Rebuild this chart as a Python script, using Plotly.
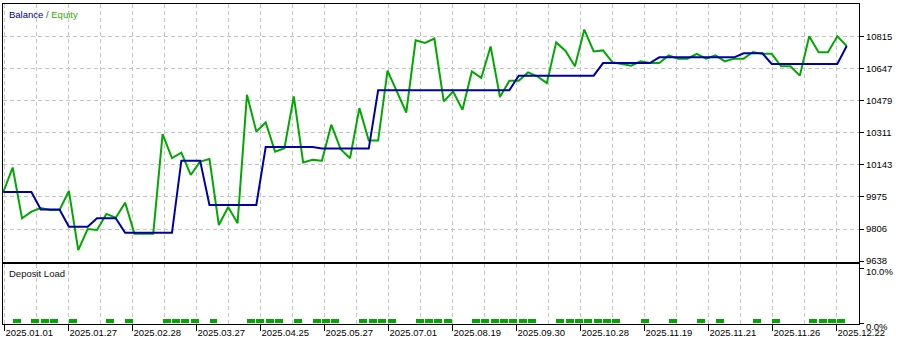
import plotly.graph_objects as go

# ---------------- data ----------------
equity = [10000, 10128, 9862, 9897, 9916, 9906, 9906, 10005, 9696, 9806,
          9801, 9885, 9865, 9944, 9781, 9781, 9781, 10303, 10177, 10206,
          10089, 10159, 10173, 9827, 9921, 9836, 10509, 10316, 10364, 10211,
          10229, 10500, 10154, 10168, 10164, 10352, 10224, 10177, 10439, 10269,
          10269, 10635, 10526, 10416, 10794, 10780, 10803, 10474, 10526, 10430,
          10631, 10597, 10762, 10497, 10582, 10582, 10626, 10605, 10570, 10783,
          10738, 10658, 10850, 10736, 10741, 10679, 10670, 10661, 10684, 10675,
          10675, 10715, 10698, 10698, 10723, 10698, 10715, 10684, 10698, 10698,
          10733, 10723, 10723, 10658, 10658, 10609, 10815, 10731, 10731, 10815,
          10764]

balance = ([10000] * 4 + [9908] * 3 + [9818] * 3 + [9862] * 3 + [9786] * 6 +
           [10164] * 3 + [9932] * 6 + [10235] * 6 + [10227] * 6 + [10532] * 15 +
           [10609] * 9 + [10675] * 6 + [10705] * 9 + [10726] * 3 + [10670] * 8 +
           [10764])

load_trades = [1, 3, 4, 5, 7, 11, 13, 17, 18, 19, 20, 22, 26, 27, 28, 29, 31,
               33, 34, 35, 38, 39, 40, 41, 44, 45, 46, 47, 50, 51, 52, 53, 54,
               55, 56, 59, 60, 61, 62, 63, 64, 65, 68, 71, 74, 76, 80, 82, 86,
               87, 88, 89]
load_values = [0.75, 0.75, 0.75, 0.75, 0.75, 0.75, 0.75, 0.75, 0.75, 0.75,
               0.75, 0.75, 0.75, 0.75, 0.75, 0.75, 0.75, 0.75, 0.75, 0.75,
               0.75, 0.75, 0.75, 0.75, 0.75, 0.75, 0.75, 0.75, 0.75, 0.75,
               0.75, 0.75, 0.75, 0.75, 0.75, 0.75, 0.75, 0.75, 0.75, 0.75,
               0.75, 0.75, 0.75, 0.75, 0.75, 0.75, 0.75, 0.75, 0.75, 0.75,
               0.75, 0.75]

date_labels = ["2025.01.01", "2025.01.27", "2025.02.28", "2025.03.27",
               "2025.04.25", "2025.05.27", "2025.07.01", "2025.08.19",
               "2025.09.30", "2025.10.28", "2025.11.19", "2025.11.21",
               "2025.11.26", "2025.12.22"]

y_ticks = [9638, 9806, 9975, 10143, 10311, 10479, 10647, 10815]
y_tick_text = ["9638", "9806", "9975", "10143", "10311", "10479", "10647",
               "10815"]
load_ticks = [0, 10]
load_tick_text = ["0.0%", "10.0%"]

# ---------------- layout geometry ----------------
W, H = 899, 340
ML, MR, MT, MB = 3, 40, 4, 16
plot_w = W - ML - MR
plot_h = H - MT - MB
px_per_trade = 843.4 / (len(equity) - 1)
x_min = -(3.3 - ML) / px_per_trade
x_max = x_min + plot_w / px_per_trade

grid_px = 32.0
grid_start = (4.5 - 3.3) / px_per_trade
grid_step = grid_px / px_per_trade
n_grid = 27
grid_vals = [grid_start + k * grid_step for k in range(n_grid)]
label_vals = grid_vals[0::2][:len(date_labels)]
minor_vals = grid_vals[1::2]

main_bottom_px = 261.5
lower_top_px = 264.0
main_domain = [(MT + plot_h - main_bottom_px) / plot_h, 1.0]
lower_domain = [0.0, (MT + plot_h - lower_top_px) / plot_h]

FONT = "Liberation Sans, Arial, sans-serif"
GRID = "#c4c4c4"
DASH = "4px,3px"
GREEN = "#00a800"
BLUE = "#0000a8"

fig = go.Figure()
fig.add_trace(go.Scatter(x=list(range(len(equity))), y=equity, mode="lines",
                         line=dict(color=GREEN, width=2), xaxis="x", yaxis="y",
                         showlegend=False, hoverinfo="skip"))
fig.add_trace(go.Scatter(x=list(range(len(balance))), y=balance, mode="lines",
                         line=dict(color=BLUE, width=2), xaxis="x", yaxis="y",
                         showlegend=False, hoverinfo="skip"))
fig.add_trace(go.Bar(x=[t + 0.43 for t in load_trades], y=load_values,
                     width=0.85, marker=dict(color=GREEN, line=dict(width=0)),
                     xaxis="x2", yaxis="y2", showlegend=False, hoverinfo="skip"))

common_x = dict(range=[x_min, x_max], showline=True, mirror=True,
                linecolor="black", linewidth=1, zeroline=False,
                showgrid=True, gridcolor=GRID, griddash=DASH, gridwidth=1,
                tickmode="array", tickvals=label_vals,
                minor=dict(tickmode="array", tickvals=minor_vals, showgrid=True,
                           gridcolor=GRID, griddash=DASH, gridwidth=1, ticks=""))

fig.update_layout(
    width=W, height=H,
    margin=dict(l=ML, r=MR, t=MT, b=MB, pad=0),
    paper_bgcolor="white", plot_bgcolor="white",
    font=dict(family=FONT, size=9, color="black"),
    bargap=0,
    xaxis=dict(domain=[0, 1], anchor="y", showticklabels=False, ticks="",
               **common_x),
    xaxis2=dict(domain=[0, 1], anchor="y2", ticktext=date_labels,
                showticklabels=True, ticks="outside", ticklen=6,
                tickcolor="black", ticklabelposition="outside right",
                tickfont=dict(family=FONT, size=9.5, color="black"),
                **common_x),
    yaxis=dict(domain=main_domain, anchor="x", side="right",
               range=[9636, 10984], tickmode="array", tickvals=y_ticks,
               ticktext=y_tick_text,
               ticks="outside", ticklen=4, tickcolor="black",
               showline=True, mirror=True, linecolor="black", linewidth=1,
               showgrid=True, gridcolor=GRID, griddash=DASH, zeroline=False,
               tickfont=dict(family=FONT, size=9.5, color="black")),
    yaxis2=dict(domain=lower_domain, anchor="x2", side="right",
                range=[-0.1, 10.85], tickmode="array", tickvals=load_ticks,
                ticktext=load_tick_text, ticks="outside", ticklen=4,
                ticklabelshift=3,
                tickcolor="black", showline=True, mirror=True,
                linecolor="black", linewidth=1, showgrid=False, zeroline=False,
                tickfont=dict(family=FONT, size=9.5, color="black")),
    annotations=[
        dict(xref="paper", yref="paper", x=0, y=1, xanchor="left",
             yanchor="top", xshift=4, yshift=-3, showarrow=False,
             text=("<span style='color:#000090'>Balance</span>"
                   "<span style='color:#555555'> / </span>"
                   "<span style='color:#33aa00'>Equity</span>"),
             font=dict(family=FONT, size=9.5)),
        dict(xref="paper", yref="paper", x=0, y=lower_domain[1],
             xanchor="left", yanchor="top", xshift=4, yshift=-2,
             showarrow=False, text="Deposit Load",
             font=dict(family=FONT, size=9.5, color="#101010")),
    ],
)

fig.write_html("out.html")
